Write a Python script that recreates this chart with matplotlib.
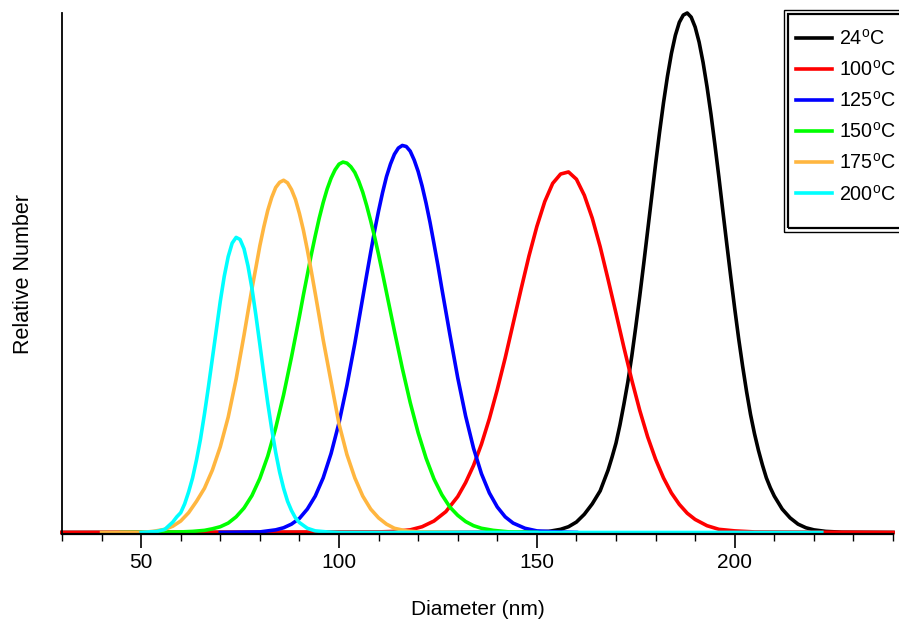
import matplotlib
matplotlib.use('Agg')
import matplotlib.pyplot as plt
from matplotlib.patches import Rectangle

plt.rcParams['font.family'] = ['Liberation Sans', 'DejaVu Sans']
plt.rcParams['mathtext.default'] = 'regular'

# 数据
labels = ['24$^{o}$C', '100$^{o}$C', '125$^{o}$C', '150$^{o}$C', '175$^{o}$C', '200$^{o}$C']
colors = ['#000000', '#ff0000', '#0000ff', '#00ff00', '#ffb640', '#00ffff']

black_x = [30, 145, 150, 153, 156, 158, 160, 162, 164, 166,
           168, 169, 170, 171, 172, 173, 174, 175, 176, 177, 178, 179, 180, 181, 182, 183, 184, 185,
           186, 187, 188, 189, 190, 191, 192, 193, 194, 195, 196, 197, 198, 199, 200, 201, 202, 203,
           204, 205, 206, 207, 208, 209, 210,
           212, 214, 216, 218, 220, 223, 227, 240]
black_y = [0, 0, 0.001, 0.002, 0.006, 0.011, 0.02, 0.035, 0.055, 0.08,
           0.12, 0.145, 0.172, 0.207, 0.247, 0.29, 0.34, 0.396, 0.455, 0.517, 0.581, 0.645, 0.709,
           0.77, 0.827, 0.878, 0.922, 0.957, 0.982, 0.996, 1.0, 0.992, 0.973, 0.944, 0.905, 0.858,
           0.805, 0.746, 0.684, 0.619, 0.555, 0.492, 0.431, 0.373, 0.32, 0.271, 0.227, 0.19, 0.158,
           0.13, 0.105, 0.086, 0.07,
           0.045, 0.028, 0.016, 0.009, 0.005, 0.002, 0.0005, 0]

red_x = [30, 110, 114, 118, 121, 124, 127,
         130, 132, 134, 136, 138, 140, 142, 144, 146, 148, 150, 152, 154, 156, 158, 160, 162, 164,
         166, 168, 170, 172, 174, 176, 178, 180, 182, 184, 186, 188, 190,
         193, 196, 200, 205, 240]
red_y = [0, 0.001, 0.002, 0.005, 0.011, 0.022, 0.04,
         0.069, 0.096, 0.129, 0.17, 0.219, 0.275, 0.336, 0.402, 0.468, 0.532, 0.589, 0.637, 0.672,
         0.69, 0.694, 0.68, 0.649, 0.605, 0.55, 0.487, 0.422, 0.356, 0.293, 0.235, 0.184, 0.141,
         0.105, 0.076, 0.054, 0.037, 0.025,
         0.013, 0.006, 0.003, 0.001, 0]

blue_x = [70, 80, 82, 84, 86, 88, 90, 92, 94, 96, 98, 100, 102, 104,
          106, 107, 108, 109, 110, 111, 112, 113, 114, 115, 116, 117, 118, 119, 120, 121, 122, 123,
          124, 125, 126,
          128, 130, 132, 134, 136, 138, 140, 142, 144, 147, 150, 155, 160]
blue_y = [0, 0.001, 0.003, 0.005, 0.009, 0.016, 0.027, 0.045, 0.07, 0.105, 0.152, 0.211, 0.283,
          0.364,
          0.452, 0.496, 0.539, 0.581, 0.619, 0.654, 0.685, 0.709, 0.728, 0.74, 0.745, 0.743, 0.734,
          0.717, 0.695, 0.667, 0.634, 0.597, 0.556, 0.514, 0.469,
          0.382, 0.298, 0.224, 0.162, 0.113, 0.076, 0.049, 0.03, 0.018, 0.008, 0.003, 0.001, 0]

green_x = [45, 60, 63, 66, 68, 70, 72, 74, 76, 78, 80, 82, 84, 86, 88,
           89, 90, 91, 92, 93, 94, 95, 96, 97, 98, 99, 100, 101, 102, 103, 104, 105, 106, 107, 108,
           109, 110, 111, 112, 113, 114,
           116, 118, 120, 122, 124, 126, 128, 130, 132, 134, 136, 139, 143, 150]
green_y = [0, 0.001, 0.002, 0.004, 0.007, 0.011, 0.018, 0.03, 0.047, 0.071, 0.104, 0.147, 0.201,
           0.265, 0.338,
           0.377, 0.416, 0.457, 0.496, 0.535, 0.571, 0.605, 0.635, 0.661, 0.682, 0.698, 0.709,
           0.713, 0.711, 0.704, 0.693, 0.676, 0.655, 0.629, 0.6, 0.569, 0.535, 0.499, 0.462, 0.425,
           0.388,
           0.316, 0.25, 0.192, 0.143, 0.103, 0.0725, 0.049, 0.033, 0.021, 0.013, 0.008, 0.004,
           0.001, 0]

orange_x = [40, 50, 53, 56, 58, 60, 62, 64, 66, 68, 70, 72, 74,
            76, 77, 78, 79, 80, 81, 82, 83, 84, 85, 86, 87, 88, 89, 90, 91, 92, 93, 94, 95, 96,
            98, 100, 102, 104, 106, 108, 110, 112, 114, 117, 120, 130]
orange_y = [0, 0, 0.002, 0.006, 0.012, 0.022, 0.038, 0.06, 0.085, 0.12, 0.165, 0.222, 0.295,
            0.38, 0.425, 0.469, 0.51, 0.552, 0.588, 0.62, 0.645, 0.664, 0.674, 0.678, 0.673, 0.66,
            0.641, 0.614, 0.582, 0.544, 0.503, 0.46, 0.416, 0.371,
            0.29, 0.209, 0.15, 0.105, 0.07, 0.045, 0.028, 0.016, 0.008, 0.003, 0.001, 0]

cyan_x = [50, 52, 54, 56, 58, 59,
          60, 61, 62, 63, 64, 65, 66, 67, 68, 69, 70, 71, 72, 73, 74, 75, 76, 77, 78, 79, 80, 81,
          82, 83, 84, 85, 86, 87, 88, 89, 90,
          92, 94, 97, 100, 222]
cyan_y = [0, 0.001, 0.002, 0.006, 0.02, 0.03,
          0.038, 0.055, 0.078, 0.105, 0.14, 0.18, 0.228, 0.28, 0.335, 0.39, 0.445, 0.493, 0.531,
          0.557, 0.568, 0.564, 0.546, 0.513, 0.47, 0.418, 0.362, 0.304, 0.249, 0.199, 0.154, 0.116,
          0.085, 0.06, 0.042, 0.028, 0.019,
          0.008, 0.003, 0.001, 0, 0]

xs = [black_x, red_x, blue_x, green_x, orange_x, cyan_x]
ys = [black_y, red_y, blue_y, green_y, orange_y, cyan_y]

W, H = 899, 621
fig = plt.figure(figsize=(W / 100, H / 100), dpi=100)
ax = fig.add_axes([62 / W, 87 / H, (893 - 62) / W, (534 - 13) / H])

for x, y, c, lab in zip(xs, ys, colors, labels):
    ax.plot(x, y, color=c, lw=2.6, label=lab, clip_on=False, solid_joinstyle='round')

ax.set_xlim(30, 240)
ax.set_ylim(-0.003, 1.0)
for s in ['top', 'right']:
    ax.spines[s].set_visible(False)
ax.spines['left'].set_linewidth(1.3)
ax.spines['bottom'].set_linewidth(1.6)
ax.set_yticks([])
ax.set_xticks([50, 100, 150, 200])
ax.set_xticks(range(30, 241, 10), minor=True)
ax.tick_params(axis='x', which='major', length=10, width=1.2, labelsize=15, pad=4)
ax.tick_params(axis='x', which='minor', length=5, width=1.0)
ax.set_xlabel('Diameter (nm)', fontsize=15, labelpad=20)
ax.set_ylabel('Relative Number', fontsize=15.5, labelpad=20)

leg = ax.legend(loc='upper left', bbox_to_anchor=(796 / W, 1 - 29 / H), bbox_transform=fig.transFigure,
                frameon=False, fontsize=14.2, handlelength=1.8, handletextpad=0.4,
                labelspacing=0.56, borderpad=0, borderaxespad=0)

# 双线边框
fig.add_artist(Rectangle((784 / W, 1 - 232 / H), 0.2, (232 - 10) / H, transform=fig.transFigure,
                         fill=False, ec='black', lw=1.0))
fig.add_artist(Rectangle((788 / W, 1 - 228 / H), 0.2, (228 - 14) / H, transform=fig.transFigure,
                         fill=False, ec='black', lw=1.6))

plt.savefig('out.png', dpi=100)
